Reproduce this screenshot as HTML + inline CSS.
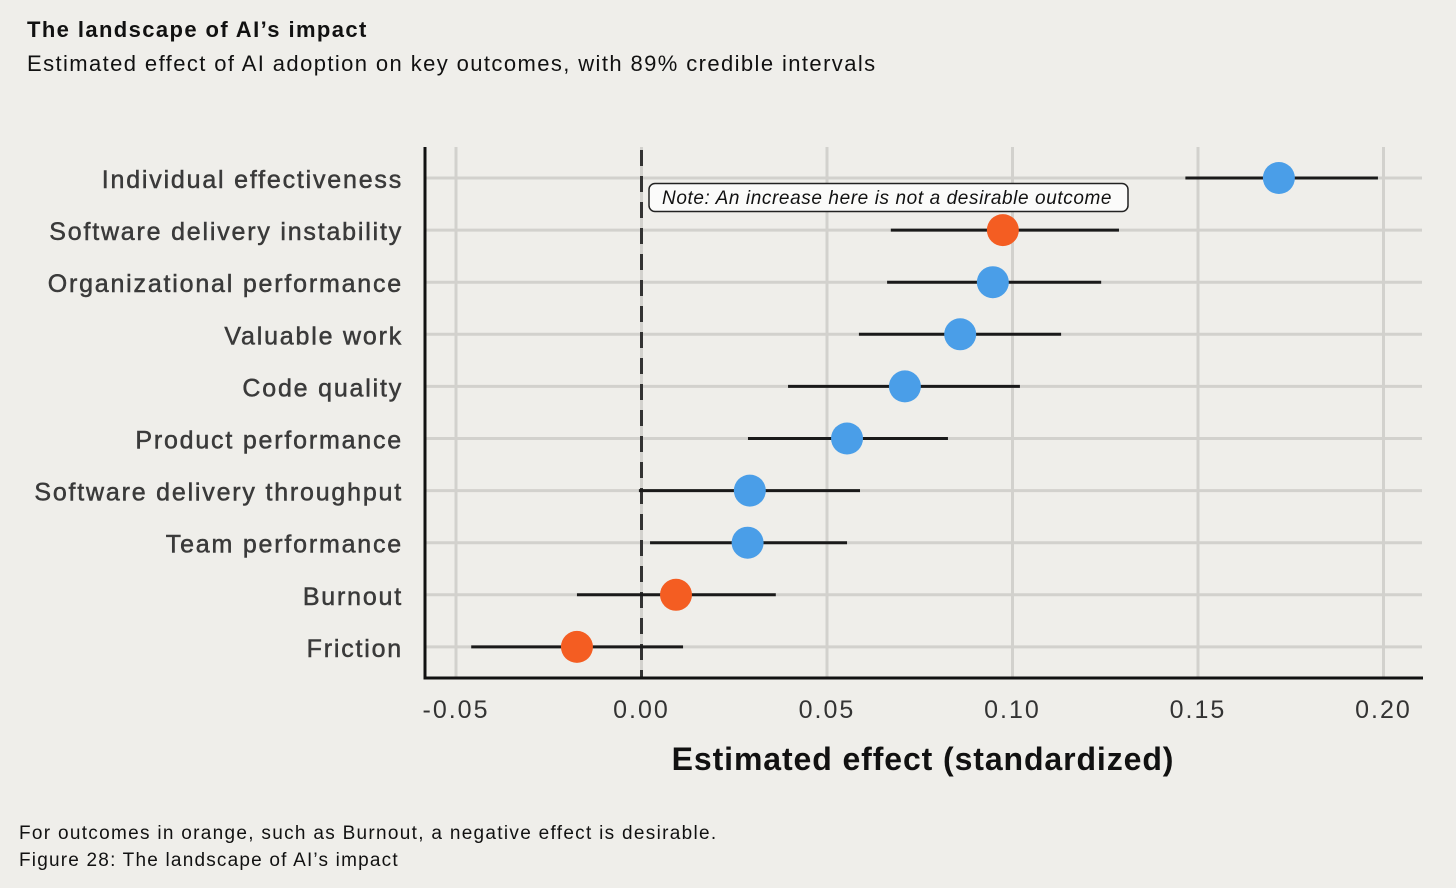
<!DOCTYPE html>
<html><head><meta charset="utf-8">
<style>
html,body{margin:0;padding:0;background:#efeeea;}
body{width:1456px;height:888px;overflow:hidden;position:relative;font-family:"Liberation Sans",sans-serif;color:#111;}
.t{position:absolute;white-space:nowrap;}
</style></head>
<body>
<div class="t" style="left:27px;top:17px;font-size:22px;font-weight:bold;letter-spacing:1.4px;">The landscape of AI’s impact</div>
<div class="t" style="left:27px;top:51px;font-size:22px;letter-spacing:1.4px;">Estimated effect of AI adoption on key outcomes, with 89% credible intervals</div>
<div class="t" style="left:19px;top:823px;font-size:19px;letter-spacing:1.3px;">For outcomes in orange, such as Burnout, a negative effect is desirable.</div>
<div class="t" style="left:19px;top:850px;font-size:19px;letter-spacing:1.2px;">Figure 28: The landscape of AI’s impact</div>
<svg id="chart" width="1456" height="888" style="position:absolute;left:0;top:0;" xmlns="http://www.w3.org/2000/svg"></svg>
<script>
const categories=["Individual effectiveness","Software delivery instability","Organizational performance","Valuable work","Code quality","Product performance","Software delivery throughput","Team performance","Burnout","Friction"];
const estimates=[0.1718,0.0974,0.0947,0.0859,0.0710,0.0554,0.0292,0.0286,0.0093,-0.0174];
const lowers=[0.1466,0.0672,0.0662,0.0586,0.0395,0.0287,-0.0007,0.0023,-0.0174,-0.0459];
const uppers=[0.1985,0.1287,0.1239,0.1131,0.1020,0.0826,0.0589,0.0554,0.0362,0.0112];
const negativeDesirable=[false,true,false,false,false,false,false,false,true,true];
const ticks=[-0.05,0,0.05,0.10,0.15,0.20];
const tickLabels=["-0.05","0.00","0.05","0.10","0.15","0.20"];

const NS="http://www.w3.org/2000/svg";
const svg=document.getElementById('chart');
const x=v=>641.5+v*3710;
const y=i=>178+i*52.1;
function mk(tag,attrs,parent){const e=document.createElementNS(NS,tag);for(const k in attrs)e.setAttribute(k,attrs[k]);(parent||svg).appendChild(e);return e;}
ticks.forEach((t,i)=>{
 const g=mk('line',{x1:x(t),x2:x(t),y1:147,y2:678,stroke:'#d2d1cd','stroke-width':3});
 
 
 const tl=mk('text',{x:x(t),y:718,'text-anchor':'middle','font-size':25,'letter-spacing':2,fill:'#333','font-family':'Liberation Sans, sans-serif'});
 tl.textContent=tickLabels[i];
 
 
});
categories.forEach((c,i)=>{
 const r=mk('line',{x1:425,x2:1422,y1:y(i),y2:y(i),stroke:'#d2d1cd','stroke-width':3});
 
 
 const l=mk('text',{x:403,y:y(i)+10,'text-anchor':'end','font-size':25,'letter-spacing':1.8,fill:'#3a3a3a',stroke:'#3a3a3a','stroke-width':0.5,'font-family':'Liberation Sans, sans-serif'});
 l.textContent=c;
 
 
});
const z=mk('line',{x1:x(0),x2:x(0),y1:150,y2:678,stroke:'#333','stroke-width':3,'stroke-dasharray':'16,10'});


const ya=mk('line',{x1:425,x2:425,y1:147,y2:679.5,stroke:'#111','stroke-width':3});


const xa=mk('line',{x1:424,x2:1423,y1:678,y2:678,stroke:'#111','stroke-width':3});


const nb=mk('rect',{x:649,y:183.5,width:479,height:28,rx:6,fill:'#fbfbfa',stroke:'#222','stroke-width':1.5});


const nt=mk('text',{x:662,y:204,'font-size':19,'font-style':'italic','letter-spacing':0.6,fill:'#111','font-family':'Liberation Sans, sans-serif'});
nt.textContent='Note: An increase here is not a desirable outcome';


categories.forEach((c,i)=>{
 const ci=mk('line',{x1:x(lowers[i]),x2:x(uppers[i]),y1:y(i),y2:y(i),stroke:'#1a1a1a','stroke-width':3});
 
 
 const d=mk('circle',{cx:x(estimates[i]),cy:y(i),r:16,fill:negativeDesirable[i]?'#f45d22':'#4a9ee8'});
 
 
});
const xt=mk('text',{x:923,y:770,'text-anchor':'middle','font-size':32,'font-weight':'bold','letter-spacing':0.9,fill:'#111','font-family':'Liberation Sans, sans-serif'});
xt.textContent='Estimated effect (standardized)';


</script>
</body></html>
